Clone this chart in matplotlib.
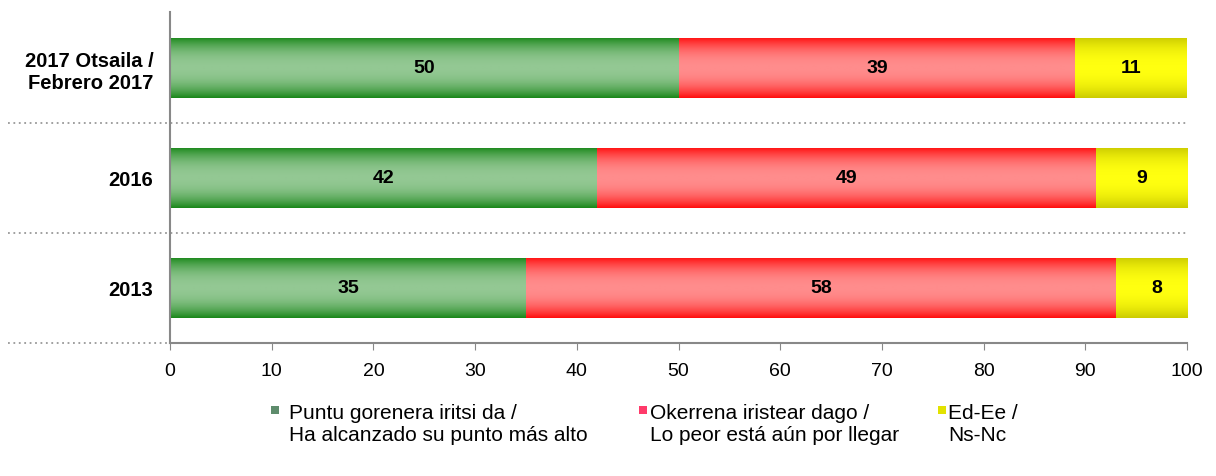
import numpy as np
import matplotlib
matplotlib.use("Agg")
import matplotlib.pyplot as plt
from matplotlib.colors import LinearSegmentedColormap
from matplotlib.patches import Rectangle
from matplotlib.lines import Line2D

plt.rcParams['font.family'] = ['Liberation Sans', 'DejaVu Sans']

# data
categories = ['2017 Otsaila /\nFebrero 2017', '2016', '2013']
reached = [50, 42, 35]
worst = [39, 49, 58]
dk = [11, 9, 8]
series_labels = ['Puntu gorenera iritsi da /\nHa alcanzado su punto más alto',
                 'Okerrena iristear dago /\nLo peor está aún por llegar',
                 'Ed-Ee /\nNs-Nc']
xticks = [0, 10, 20, 30, 40, 50, 60, 70, 80, 90, 100]

# edge colour, middle colour of the bar gradient, legend swatch
styles = [('#1b881b', '#93c893', '#5e8c6c'),
          ('#ff0f0f', '#ff8c8c', '#ff3a6a'),
          ('#cccc00', '#ffff10', '#e2e200')]

fig = plt.figure(figsize=(12.16, 4.77), dpi=100)
ax = fig.add_axes([0.1398, 0.2788, 0.8364, 0.6929])

ypos = np.arange(len(categories))
bar_h = 0.545
t = np.linspace(0, 1, 64)
prof = 1 - np.abs(2 * t - 1) ** 2.2

lefts = np.zeros(len(categories))
for vals, (edge, mid, _) in zip([reached, worst, dk], styles):
    cmap = LinearSegmentedColormap.from_list('g', [edge, mid])
    bars = ax.barh(ypos, vals, left=lefts, height=bar_h, color='none', edgecolor='none')
    for b, v, l in zip(bars, vals, lefts):
        x0, y0 = b.get_x(), b.get_y()
        w, h = b.get_width(), b.get_height()
        x1 = min(x0 + w, 100)  # total can round to 101, axis stops at 100
        im = ax.imshow(prof[:, None], cmap=cmap, vmin=0, vmax=1, aspect='auto',
                       extent=[x0, x1, y0, y0 + h], origin='lower',
                       interpolation='bilinear', zorder=2)
        im.set_clip_path(b)
        ax.text(l + v / 2, y0 + h / 2, str(v), ha='center', va='center',
                fontsize=14, fontweight='bold', color='black', zorder=3)
    lefts = lefts + np.array(vals)

ax.set_xlim(0, 100)
ax.set_ylim(len(categories) - 0.5, -0.5)
ax.set_xticks(xticks)
ax.set_xticklabels([str(v) for v in xticks], fontsize=14)
ax.set_yticks(ypos)
ax.set_yticklabels(categories, fontsize=14.5, fontweight='bold')
ax.tick_params(axis='y', length=0, pad=12)
ax.tick_params(axis='x', length=5, color='#888888', pad=9)

for s in ['top', 'right']:
    ax.spines[s].set_visible(False)
ax.spines['left'].set_color('#888888')
ax.spines['bottom'].set_color('#888888')
ax.spines['left'].set_linewidth(1.5)
ax.spines['bottom'].set_linewidth(1.5)

# dotted separators between categories
for yb in ypos + 0.5:
    ax.add_line(Line2D([-0.159 * 100, 100], [yb, yb], color='#999999', lw=1.3,
                       linestyle=(0, (1, 2)), clip_on=False, zorder=1))

# legend
leg_x = [0.2229, 0.5255, 0.7714]
txt_x = [0.2377, 0.5345, 0.7796]
for lx, tx, lab, (_, _, sw) in zip(leg_x, txt_x, series_labels, styles):
    fig.add_artist(Rectangle((lx, 0.1296), 0.0066, 0.0168, transform=fig.transFigure,
                             facecolor=sw, edgecolor='none'))
    fig.text(tx, 0.110, lab, fontsize=15, va='center', ha='left',
             linespacing=1.2)

fig.savefig('out.png', dpi=100)
